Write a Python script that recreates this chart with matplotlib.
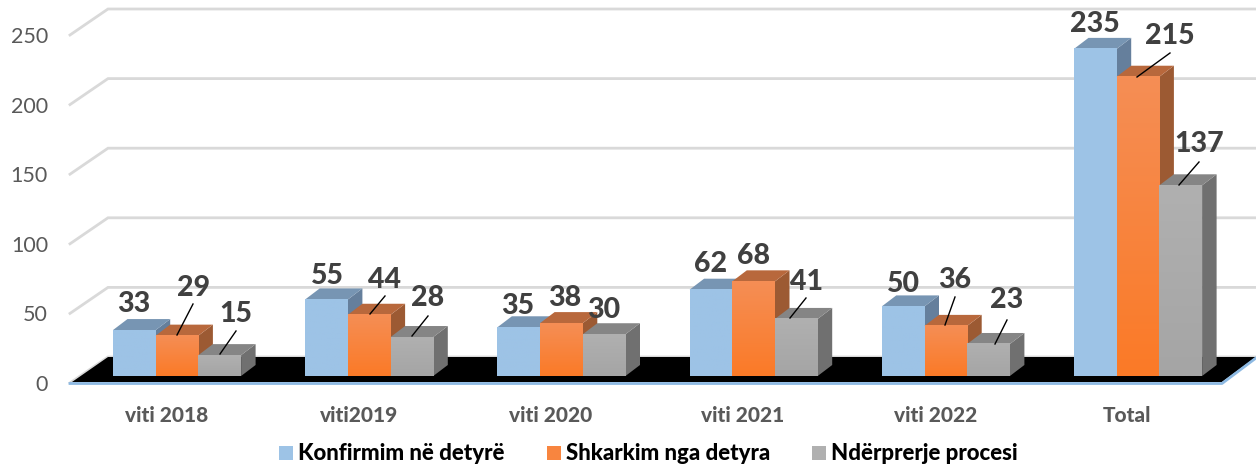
import numpy as np
import matplotlib
matplotlib.use('Agg')
import matplotlib.pyplot as plt
from matplotlib.patches import Polygon, Rectangle
from matplotlib.colors import LinearSegmentedColormap

categories = ['viti 2018', 'viti2019', 'viti 2020', 'viti 2021', 'viti 2022', 'Total']
konfirmim = [33, 55, 35, 62, 50, 235]
shkarkim = [29, 44, 38, 68, 36, 215]
nderprerje = [15, 28, 30, 41, 23, 137]
series_names = ['Konfirmim në detyrë', 'Shkarkim nga detyra', 'Ndërprerje procesi']
y_ticks = [0, 50, 100, 150, 200, 250]

plt.rcParams['font.family'] = ['Lato', 'DejaVu Sans']

W, H = 1256, 467
# scale of the picture: pixels per category and per unit of value
PX_CAT = 192.2
PX_VAL = 1.392
X0 = 113.0   # left edge of the first bar
Y0 = 376.0   # bottom of the bars


def px_x(p):
    return (p - X0) / PX_CAT


def px_y(p):
    return (Y0 - p) / PX_VAL


fig = plt.figure(figsize=(W / 100, H / 100), dpi=100)
ax = fig.add_axes([0, 0, 1, 1])
ax.set_xlim(px_x(0), px_x(W))
ax.set_ylim(px_y(H), px_y(0))
ax.axis('off')

bar_w = 42.7 / PX_CAT
dx = 14.5 / PX_CAT
dy = 11.0 / PX_VAL
back_dx = 38 / PX_CAT
back_y = px_y(357)

# back wall gridlines and their left wall part
wall_x0 = px_x(70)
wall_x1 = px_x(70) + back_dx
for t in y_ticks:
    yb = back_y + t
    yf = px_y(383) + t
    ax.plot([wall_x0, wall_x1, px_x(1256)], [yf, yb, yb], color='#d9d9d9', lw=2.0, zorder=1,
            solid_joinstyle='miter')
    ax.text(px_x(48), yf - 1.5, str(t), ha='right', va='center', fontsize=15.5, color='#595959')

# black floor
floor = [(px_x(72), px_y(382)), (px_x(1222), px_y(382)), (px_x(1256), px_y(357)), (px_x(108), px_y(357))]
ax.add_patch(Polygon(floor, closed=True, facecolor='black', edgecolor='none', zorder=2))
ax.plot([px_x(70), px_x(1222), px_x(1256)], [px_y(383.5), px_y(383.5), px_y(358)],
        color='#8db9e2', lw=2.0, zorder=3)

face_top = ['#9dc3e6', '#f58e55', '#b0b0b0']
face_bot = ['#9dc3e6', '#fb7a27', '#a5a5a5']
top_col = ['#7795b3', '#b8683c', '#858585']
side_col = ['#657f9c', '#9c5a33', '#707070']
all_values = [konfirmim, shkarkim, nderprerje]

z = 4
for i in range(len(categories)):
    for s, values in enumerate(all_values):
        v = values[i]
        x = i + s * bar_w
        ax.add_patch(Polygon([(x + bar_w, 0), (x + bar_w + dx, dy), (x + bar_w + dx, v + dy), (x + bar_w, v)],
                             facecolor=side_col[s], edgecolor='none', zorder=z))
        ax.add_patch(Polygon([(x, v), (x + dx, v + dy), (x + bar_w + dx, v + dy), (x + bar_w, v)],
                             facecolor=top_col[s], edgecolor='none', zorder=z))
        cmap = LinearSegmentedColormap.from_list('f', [face_top[s], face_bot[s]])
        ax.imshow(np.linspace(0, 1, 64).reshape(-1, 1), cmap=cmap, aspect='auto', interpolation='bilinear',
                  extent=(x, x + bar_w, 0, v), origin='upper', zorder=z + 0.5)
        z += 1
ax.set_xlim(px_x(0), px_x(W))
ax.set_ylim(px_y(H), px_y(0))

# data labels, pixel centres as placed in the original
label_pos = [[(134, 303), (194, 286), (236, 313)],
             [(327, 274), (385, 278), (428, 297)],
             [(518, 304), (565, 297), (604, 309)],
             [(711, 263), (753, 255), (806, 280)],
             [(903, 283), (955, 278), (1007, 299)],
             [(1095, 23), (1170, 35), (1199, 143)]]
leaders = [((177, 335), (193, 304)), ((220, 354), (236, 331)), ((370, 314), (385, 296)),
           ((412, 336), (428, 316)), ((790, 318), (806, 298)), ((945, 325), (955, 297)),
           ((995, 344), (1007, 320)), ((1137, 77), (1170, 53)), ((1179, 185), (1199, 162))]
for i in range(len(categories)):
    for s, values in enumerate(all_values):
        px, py = label_pos[i][s]
        ax.text(px_x(px), px_y(py + 1.5), str(values[i]), ha='center', va='center', fontsize=20.5,
                fontweight=900, color='#404040', zorder=100)
for a, b in leaders:
    ax.plot([px_x(a[0]), px_x(b[0])], [px_y(a[1]), px_y(b[1])], color='black', lw=1.0, zorder=99)

# category labels
for i, c in enumerate(categories):
    ax.text(i + 53.5 / PX_CAT, px_y(415), c, ha='center', va='center', fontsize=15,
            fontweight=900, color='#595959')

# legend
leg_x = [279, 547, 812]
for s, name in enumerate(series_names):
    ax.add_patch(Rectangle((px_x(leg_x[s]), px_y(460)), 14 / PX_CAT, 14 / PX_VAL,
                           facecolor=face_top[s] if s != 1 else '#f8853f', edgecolor='none'))
    ax.text(px_x(leg_x[s] + 19), px_y(453), name, ha='left', va='center', fontsize=16,
            fontweight=900, color='black')

fig.savefig('out.png', dpi=100)
